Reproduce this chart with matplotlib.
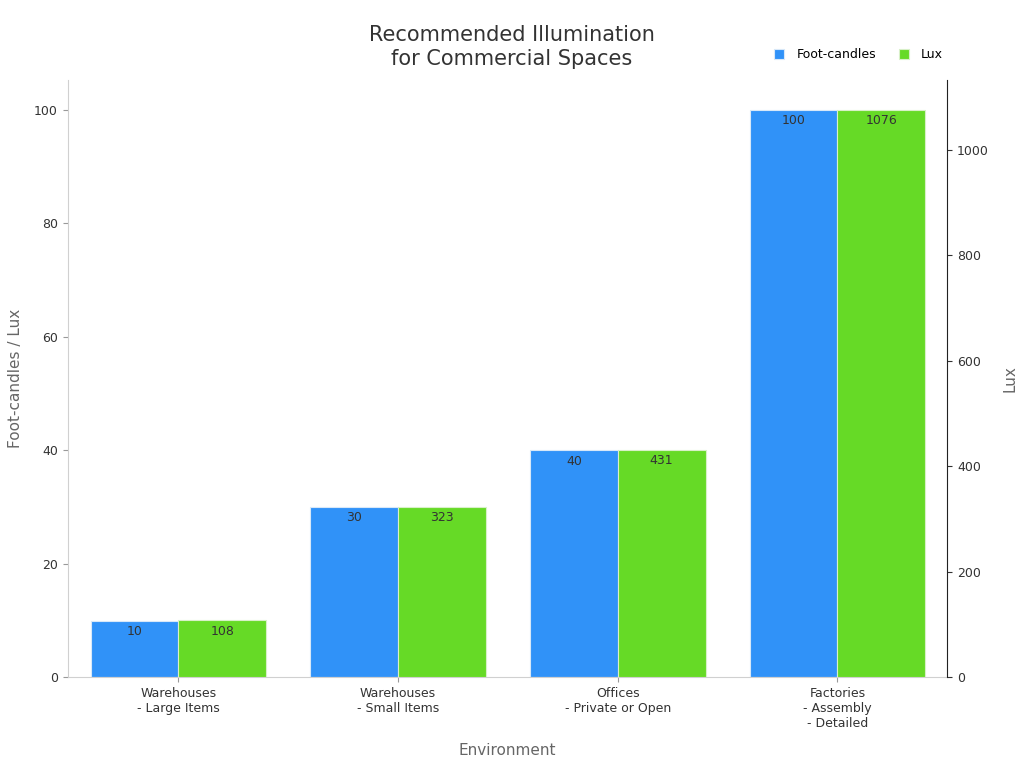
import matplotlib.pyplot as plt
import numpy as np

# Data
categories = ["Warehouses\n- Large Items", "Warehouses\n- Small Items",
              "Offices\n- Private or Open", "Factories\n- Assembly\n- Detailed"]
foot_candles = [10, 30, 40, 100]
lux = [108, 323, 431, 1076]

blue = "#3092f8"
green = "#66da26"

fig, ax = plt.subplots(figsize=(10.24, 7.68), dpi=100)
fig.subplots_adjust(left=0.066, right=0.925, top=0.896, bottom=0.118)
ax2 = ax.twinx()

x = np.arange(len(categories))
w = 0.4

b1 = ax.bar(x - w / 2, foot_candles, w, color=blue, edgecolor="#d8e8f8",
            linewidth=0.8, label="Foot-candles", zorder=2)
b2 = ax2.bar(x + w / 2, lux, w, color=green, edgecolor="#d8f0c8",
             linewidth=0.8, label="Lux", zorder=2)

for rect, v in zip(b1, foot_candles):
    ax.annotate(str(v), (rect.get_x() + rect.get_width() / 2, v),
                xytext=(0, -3), textcoords="offset points",
                ha="center", va="top", fontsize=9, color="#333333")
for rect, v in zip(b2, lux):
    ax2.annotate(str(v), (rect.get_x() + rect.get_width() / 2, v),
                 xytext=(0, -3), textcoords="offset points",
                 ha="center", va="top", fontsize=9, color="#333333")

# lux axis scaled so 1 fc ~ 10.76 lux lines up with the left axis
ax.set_xlim(-0.505, 3.5)
ax.set_ylim(0, 105.3)
ax2.set_ylim(0, 105.3 * 10.76)

ax.set_xticks(x)
ax.set_xticklabels(categories, fontsize=9, color="#333333")
ax.set_yticks([0, 20, 40, 60, 80, 100])
ax2.set_yticks([0, 200, 400, 600, 800, 1000])
ax.tick_params(axis="y", labelsize=9, colors="#333333", color="#999999")
ax.tick_params(axis="x", color="#999999")
ax2.tick_params(axis="y", labelsize=9, colors="#333333")

ax.set_xlabel("Environment", fontsize=11, color="#666666", labelpad=9)
ax.set_ylabel("Foot-candles / Lux", fontsize=11, color="#666666", labelpad=8)
ax2.set_ylabel("Lux", fontsize=11, color="#666666", labelpad=10)

for a in (ax, ax2):
    a.spines["top"].set_visible(False)
ax.spines["right"].set_visible(False)
ax.spines["left"].set_color("#d0d0d0")
ax.spines["bottom"].set_color("#d0d0d0")
ax2.spines["left"].set_visible(False)
ax2.spines["bottom"].set_visible(False)
ax2.spines["right"].set_color("#222222")

fig.suptitle("Recommended Illumination\nfor Commercial Spaces", fontsize=15,
             color="#333333", y=0.968, linespacing=1.3)

fig.legend(handles=[b1, b2], loc="upper right", bbox_to_anchor=(0.932, 0.952),
           ncol=2, frameon=False, fontsize=9, handlelength=0.8,
           handleheight=0.8, handletextpad=1.0, columnspacing=1.8)

fig.savefig("out.png", dpi=100)
